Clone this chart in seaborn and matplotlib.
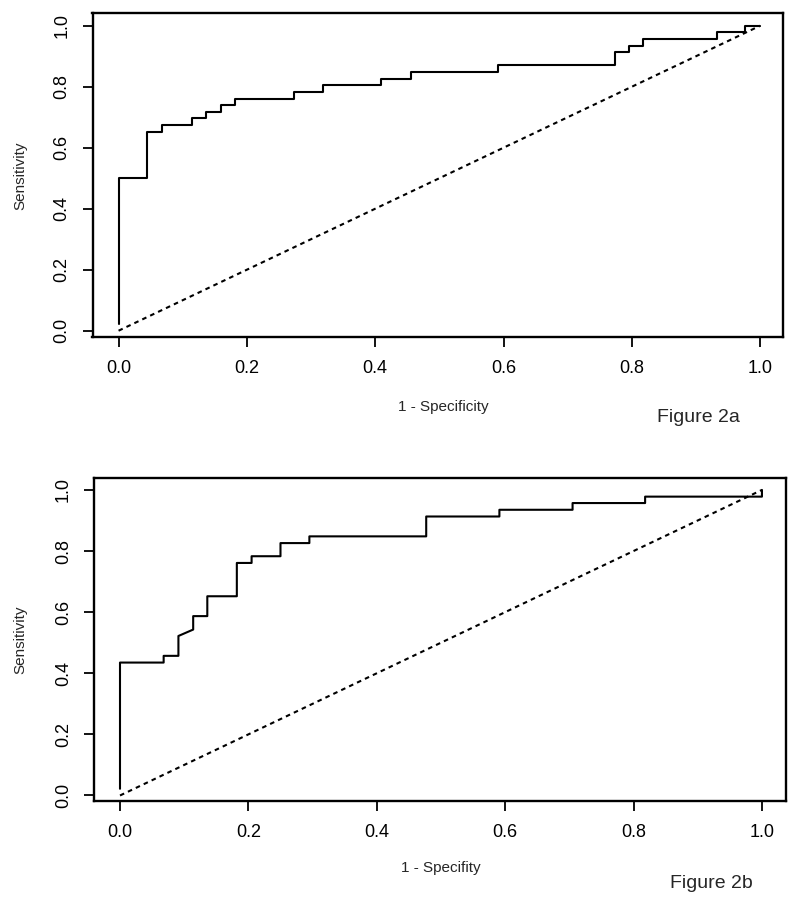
import matplotlib
matplotlib.use("Agg")
import matplotlib.pyplot as plt
import seaborn as sns
import pandas as pd

sns.set_style("white")
plt.rcParams['font.family'] = ['Liberation Sans', 'DejaVu Sans']

# ROC curve vertices (1 - specificity, sensitivity)
fpr_a = [0.0, 0.0, 0.045, 0.045, 0.068, 0.068, 0.114, 0.114, 0.136, 0.136,
         0.159, 0.159, 0.182, 0.182, 0.273, 0.273, 0.318, 0.318, 0.409, 0.409,
         0.455, 0.455, 0.591, 0.591, 0.773, 0.773, 0.795, 0.795, 0.818, 0.818,
         0.932, 0.932, 0.977, 0.977, 1.0]
tpr_a = [0.022, 0.5, 0.5, 0.652, 0.652, 0.674, 0.674, 0.696, 0.696, 0.717,
         0.717, 0.739, 0.739, 0.761, 0.761, 0.783, 0.783, 0.804, 0.804, 0.826,
         0.826, 0.848, 0.848, 0.870, 0.870, 0.913, 0.913, 0.935, 0.935, 0.957,
         0.957, 0.978, 0.978, 1.0, 1.0]

fpr_b = [0.0, 0.0, 0.068, 0.068, 0.091, 0.091, 0.114, 0.114, 0.136, 0.136,
         0.182, 0.182, 0.205, 0.205, 0.25, 0.25, 0.295, 0.295, 0.477, 0.477,
         0.591, 0.591, 0.705, 0.705, 0.818, 0.818, 1.0, 1.0]
tpr_b = [0.022, 0.435, 0.435, 0.457, 0.457, 0.522, 0.543, 0.587, 0.587, 0.652,
         0.652, 0.761, 0.761, 0.783, 0.783, 0.826, 0.826, 0.848, 0.848, 0.913,
         0.913, 0.935, 0.935, 0.957, 0.957, 0.978, 0.978, 1.0]

chance = [0.0, 1.0]
ticks = [0.0, 0.2, 0.4, 0.6, 0.8, 1.0]

W, H = 800, 907
fig = plt.figure(figsize=(W / 100, H / 100), dpi=100)


def draw_panel(box, xlim, ylim, fpr, tpr, xlabel, tag, xlab_xy, tag_xy):
    left, top, right, bottom = box
    ax = fig.add_axes([left / W, 1 - bottom / H, (right - left) / W, (bottom - top) / H])
    df = pd.DataFrame({'fpr': fpr, 'tpr': tpr})
    sns.lineplot(data=df, x='fpr', y='tpr', sort=False, estimator=None,
                 color='black', linewidth=1.5, ax=ax)
    sns.lineplot(x=chance, y=chance, color='black', linewidth=1.5,
                 linestyle=(0, (2.2, 2.0)), ax=ax)
    ax.set_xlim(*xlim)
    ax.set_ylim(*ylim)
    ax.set_xticks(ticks)
    ax.set_yticks(ticks)
    ax.set_xticklabels([f"{t:.1f}" for t in ticks], fontsize=13)
    ax.set_yticklabels([f"{t:.1f}" for t in ticks], fontsize=13, rotation=90, va='center')
    ax.tick_params(axis='both', direction='out', length=7, width=1.3, pad=9, colors='black')
    ax.tick_params(bottom=True, left=True)
    for s in ax.spines.values():
        s.set_linewidth(1.7)
        s.set_color('black')
    ax.set_xlabel('')
    ax.set_ylabel('')
    fig.text(xlab_xy[0] / W, 1 - xlab_xy[1] / H, xlabel, fontsize=11, ha='center', va='center')
    fig.text(20 / W, 1 - ((top + bottom) / 2) / H, 'Sensitivity', fontsize=11,
             rotation=90, ha='center', va='center')
    fig.text(tag_xy[0] / W, 1 - tag_xy[1] / H, tag, fontsize=14, ha='left', va='center')
    return ax


draw_panel((92.5, 13.3, 783.3, 337.3), (-0.0406, 1.036), (-0.0216, 1.0407),
           fpr_a, tpr_a, '1 - Specificity', 'Figure 2a', (443, 407), (657, 418))
draw_panel((94, 478.3, 785.7, 801.3), (-0.0405, 1.037), (-0.019, 1.038),
           fpr_b, tpr_b, '1 - Specifity', 'Figure 2b', (441, 868), (670, 883))

fig.savefig('out.png', dpi=100)
